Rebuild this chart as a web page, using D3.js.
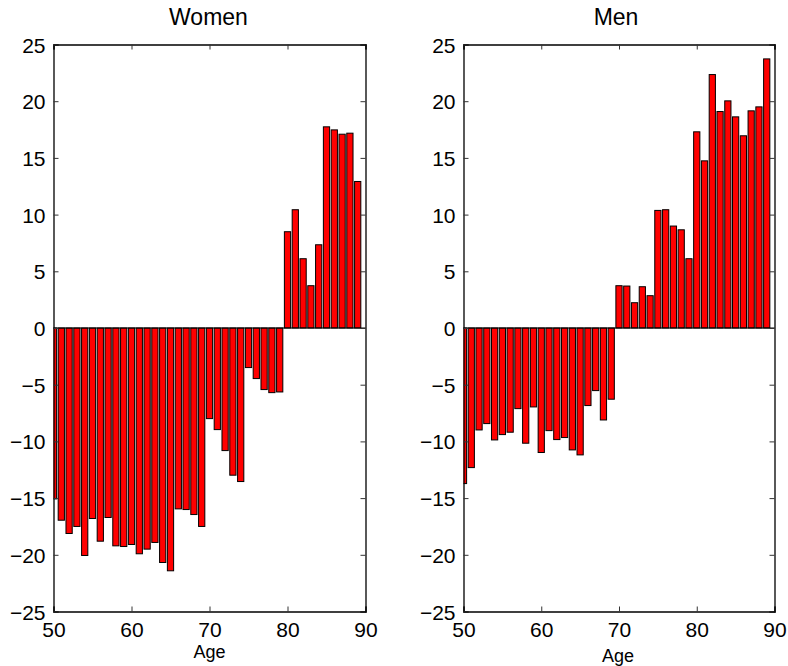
<!DOCTYPE html>
<html><head><meta charset="utf-8">
<script src="https://cdn.jsdelivr.net/npm/d3@7"></script>
<style>body{margin:0;background:#fff}svg{display:block}text{font-family:"Liberation Sans",Arial,sans-serif;fill:#000}</style>
</head><body><svg id="c" width="788" height="666"></svg>
<script>
const ages = d3.range(50, 90);
const womenValues = [-15.07,-16.95,-18.12,-17.50,-20.06,-16.80,-18.80,-16.71,-19.21,-19.27,
  -19.09,-19.91,-19.50,-18.91,-20.68,-21.41,-15.95,-16.01,-16.45,-17.50,
  -7.99,-8.96,-10.81,-12.98,-13.54,-3.49,-4.46,-5.43,-5.70,-5.64,
  8.49,10.43,6.11,3.73,7.34,17.74,17.47,17.09,17.18,12.92];
const menValues = [-13.72,-12.31,-8.99,-8.43,-9.87,-9.40,-9.19,-7.11,-10.16,-6.96,
  -10.98,-9.05,-9.84,-9.66,-10.75,-11.19,-6.84,-5.52,-8.11,-6.28,
  3.73,3.70,2.23,3.64,2.85,10.37,10.43,8.99,8.66,6.11,
  17.30,14.74,22.35,19.09,20.03,18.62,16.95,19.15,19.50,23.73];
const panelTitles = ["Women", "Men"];
const xTicks = [50, 60, 70, 80, 90];
const yTicks = [-25, -20, -15, -10, -5, 0, 5, 10, 15, 20, 25];
const xLabel = "Age";

const svg = d3.select("#c");
const panels = [
  {title: panelTitles[0], values: womenValues, left: 53.5, right: 365.5, titleDx: -1, labelDx: 0, labelY: 658},
  {title: panelTitles[1], values: menValues, left: 463.5, right: 774.5, titleDx: -3, labelDx: -1, labelY: 662}
];
const plotTop = 44.5, plotBottom = 611.5;

panels.forEach((p, i) => {
  const x = d3.scaleLinear().domain([50, 90]).range([p.left, p.right]);
  const y = d3.scaleLinear().domain([-25, 25]).range([plotBottom, plotTop]);
  const g = svg.append("g");
  const clipId = "clip" + i;
  svg.append("clipPath").attr("id", clipId).append("rect")
    .attr("x", p.left).attr("y", plotTop).attr("width", p.right - p.left).attr("height", plotBottom - plotTop);
  const bw = x(50.8) - x(50);
  g.append("g").attr("clip-path", `url(#${clipId})`)
    .selectAll("rect").data(ages).join("rect")
    .attr("x", d => x(d) - bw / 2)
    .attr("width", bw)
    .attr("y", (d, j) => y(Math.max(0, p.values[j])))
    .attr("height", (d, j) => Math.abs(y(p.values[j]) - y(0)))
    .attr("fill", "#ff0000").attr("stroke", "#000").attr("stroke-width", 1);
  g.append("line").attr("x1", p.left).attr("x2", p.right).attr("y1", y(0)).attr("y2", y(0))
    .attr("stroke", "#000").attr("stroke-width", 1);
  const ax = g.append("g").attr("transform", `translate(0,${plotBottom})`)
    .call(d3.axisBottom(x).tickValues(xTicks).tickSize(-5).tickPadding(11).tickFormat(d3.format("d")));
  const axT = g.append("g").attr("transform", `translate(0,${plotTop})`)
    .call(d3.axisTop(x).tickValues(xTicks).tickSize(-5).tickFormat(""));
  const ay = g.append("g").attr("transform", `translate(${p.left},0)`)
    .call(d3.axisLeft(y).tickValues(yTicks).tickSize(-5).tickPadding(8).tickFormat(d3.format("d")));
  const ayR = g.append("g").attr("transform", `translate(${p.right},0)`)
    .call(d3.axisRight(y).tickValues(yTicks).tickSize(-5).tickFormat(""));
  [ax, axT, ay, ayR].forEach(a => {
    a.select(".domain").attr("stroke", "#000").attr("stroke-width", 1.3);
    a.selectAll(".tick line").attr("stroke", "#333");
    a.selectAll("text").attr("font-size", 21).attr("font-family", '"Liberation Sans",Arial,sans-serif').attr("fill", "#000");
  });
  ay.selectAll("text").attr("dy", "0.36em");
  ax.selectAll("text").attr("dy", "0.7em");
  g.append("text").attr("x", (p.left + p.right) / 2 + p.titleDx).attr("y", 25)
    .attr("text-anchor", "middle").attr("font-size", 23).text(p.title);
  g.append("text").attr("x", (p.left + p.right) / 2 + p.labelDx).attr("y", p.labelY)
    .attr("text-anchor", "middle").attr("font-size", 18).text(xLabel);
});
</script></body></html>
